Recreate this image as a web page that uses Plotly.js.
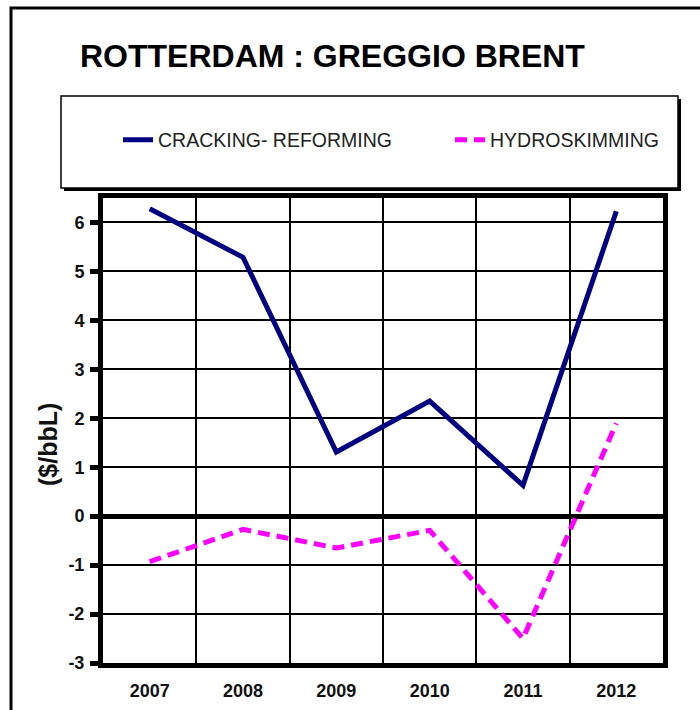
<!DOCTYPE html>
<html>
<head>
<meta charset="utf-8">
<script src="https://cdn.plot.ly/plotly-3.0.1.min.js"></script>
<style>html,body{margin:0;padding:0;background:#fff;}#chart{width:700px;height:710px;}</style>
</head>
<body>
<div id="chart"></div>
<script>
const years = ['2007', '2008', '2009', '2010', '2011', '2012'];
const crackingReforming = [6.28, 5.29, 1.31, 2.35, 0.63, 6.23];
const hydroskimming = [-0.93, -0.27, -0.65, -0.29, -2.5, 1.9];
const yTicks = [-3, -2, -1, 0, 1, 2, 3, 4, 5, 6];
const yTickLabels = ['-3', '-2', '-1', '0', '1', '2', '3', '4', '5', '6'];

const FONT = '"Liberation Sans", Arial, sans-serif';
const L = 103, R = 37, T = 198, B = 47, W = 700, H = 710;
const pw = W - L - R, ph = H - T - B;
const px = x => (x - L) / pw;
const py = y => (H - B - y) / ph;

const traces = [
  {
    x: years, y: crackingReforming, type: 'scatter', mode: 'lines',
    name: 'CRACKING- REFORMING', legend: 'legend',
    line: {color: '#000080', width: 5}
  },
  {
    x: years, y: hydroskimming, type: 'scatter', mode: 'lines',
    name: 'HYDROSKIMMING', legend: 'legend2',
    line: {color: '#FF00FF', width: 5, dash: '12px,7px'}
  }
];

const legendCommon = {
  orientation: 'h',
  yanchor: 'middle', y: py(140),
  xanchor: 'left',
  font: {family: FONT, size: 19.5, color: '#222'},
  bgcolor: 'rgba(0,0,0,0)',
  borderwidth: 0
};

const layout = {
  width: W, height: H,
  margin: {l: L, r: R, t: T, b: B},
  paper_bgcolor: '#fff', plot_bgcolor: '#fff',
  font: {family: FONT, color: '#000'},
  title: {
    text: '<b>ROTTERDAM : GREGGIO BRENT</b>',
    font: {family: FONT, size: 32, color: '#000'},
    xref: 'container', yref: 'container',
    x: 80 / W, xanchor: 'left',
    y: 1 - 56 / H, yanchor: 'middle'
  },
  xaxis: {
    type: 'category',
    range: [-0.5, 5.5],
    tickson: 'boundaries',
    showgrid: true, gridcolor: '#000', gridwidth: 2,
    showline: true, linecolor: '#000', linewidth: 5, mirror: true,
    ticks: '',
    tickfont: {family: FONT, size: 18, color: '#111', weight: 'bold'},
    ticklabelstandoff: 7,
    fixedrange: true
  },
  yaxis: {
    range: [-3, 6.5],
    tickvals: yTicks, ticktext: yTickLabels,
    showgrid: true, gridcolor: '#000', gridwidth: 2,
    zeroline: true, zerolinecolor: '#000', zerolinewidth: 5,
    showline: true, linecolor: '#000', linewidth: 5, mirror: true,
    ticks: 'outside', ticklen: 8, tickwidth: 5, tickcolor: '#000',
    tickfont: {family: FONT, size: 18, color: '#111', weight: 'bold'},
    ticklabelstandoff: 2,
    fixedrange: true
  },
  showlegend: true,
  legend: Object.assign({}, legendCommon, {x: px(118)}),
  legend2: Object.assign({}, legendCommon, {x: px(450)}),
  shapes: [
    // outer chart frame
    {type: 'rect', xref: 'paper', yref: 'paper',
     x0: px(11), x1: px(760), y0: py(780), y1: py(8),
     line: {color: '#000', width: 3}, fillcolor: 'rgba(0,0,0,0)', layer: 'below'},
    // legend box shadow
    {type: 'rect', xref: 'paper', yref: 'paper',
     x0: px(64), x1: px(681), y0: py(191), y1: py(99),
     line: {color: '#000', width: 0}, fillcolor: '#000', layer: 'below'},
    // legend box
    {type: 'rect', xref: 'paper', yref: 'paper',
     x0: px(61), x1: px(678), y0: py(188), y1: py(96),
     line: {color: '#000', width: 1.5}, fillcolor: '#fff', layer: 'below'}
  ],
  annotations: [
    {text: '<b>($/bbL)</b>', xref: 'paper', yref: 'paper',
     x: px(48), y: py(445), xanchor: 'center', yanchor: 'middle',
     textangle: -90, showarrow: false,
     font: {family: FONT, size: 25, color: '#111'}}
  ]
};

Plotly.newPlot('chart', traces, layout, {displayModeBar: false, staticPlot: true});
</script>
</body>
</html>
